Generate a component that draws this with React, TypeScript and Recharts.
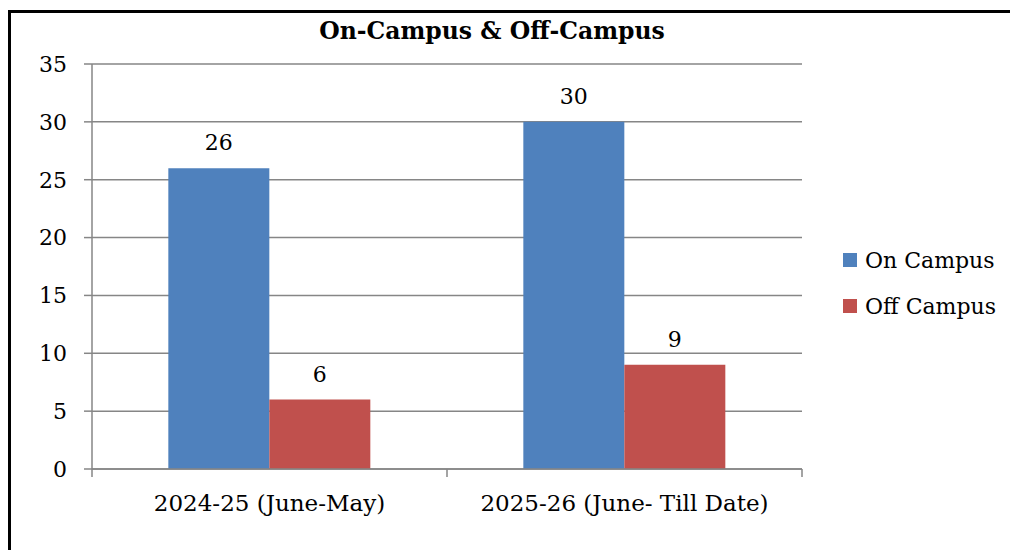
import React from 'react';
import { BarChart, Bar, XAxis, YAxis, CartesianGrid, LabelList, Text } from 'recharts';

const categories = ['2024-25 (June-May)', '2025-26 (June- Till Date)'];
const onCampus = [26, 30];
const offCampus = [6, 9];
const yTicks = [0, 5, 10, 15, 20, 25, 30, 35];
const seriesNames = ['On Campus', 'Off Campus'];
const seriesColors = ['#4F81BD', '#C0504D'];

const data = categories.map((c, i) => ({ name: c, on: onCampus[i], off: offCampus[i] }));

const FONT = '"DejaVu Serif", serif';
const GRAY = '#868686';
const X_TICK_SIZE = 8;
const X_TICK_MARGIN = 18;

const CategoryTick = (props: any) => {
  const { x, y, payload, index, visibleTicksCount } = props;
  const half = typeof payload?.offset === 'number' ? payload.offset : 0;
  const axisY = y - X_TICK_MARGIN - X_TICK_SIZE;
  const isLast = index === (visibleTicksCount ?? categories.length) - 1;
  return (
    <g>
      {half > 0 && (
        <line x1={x - half} x2={x - half} y1={axisY} y2={axisY + X_TICK_SIZE} stroke={GRAY} strokeWidth={1.5} />
      )}
      {half > 0 && isLast && (
        <line x1={x + half} x2={x + half} y1={axisY} y2={axisY + X_TICK_SIZE} stroke={GRAY} strokeWidth={1.5} />
      )}
      <Text x={x} y={y} textAnchor="middle" verticalAnchor="start" fill="#000" fontSize={23} fontFamily={FONT}>
        {payload.value}
      </Text>
    </g>
  );
};

export default function App() {
  return (
    <div style={{ position: 'absolute', left: 0, top: 0, width: 1010, height: 550, background: '#fff' }}>
      <div style={{ position: 'absolute', left: 8, top: 10, width: 999, height: 537, borderLeft: '3px solid #000', borderTop: '3px solid #000' }} />
      <div style={{ position: 'absolute', left: 92, width: 800, top: 17, textAlign: 'center', fontFamily: FONT, fontWeight: 'bold', fontSize: 23.5, color: '#000' }}>
        On-Campus &amp; Off-Campus
      </div>
      <div style={{ position: 'absolute', left: 0, top: 0 }}>
        <BarChart width={1010} height={550} data={data} margin={{ top: 64, right: 208, bottom: 51, left: 32 }} barCategoryGap="21.5%" barGap={0}>
          <CartesianGrid horizontal vertical={false} stroke={GRAY} strokeWidth={1.5} />
          <XAxis dataKey="name" height={30} tickLine={false} tickSize={X_TICK_SIZE} tickMargin={X_TICK_MARGIN} axisLine={{ stroke: GRAY, strokeWidth: 1.5 }} tick={<CategoryTick />} interval={0} />
          <YAxis width={60} domain={[0, 35]} ticks={yTicks} interval={0} tickSize={8} tickMargin={17} axisLine={{ stroke: GRAY, strokeWidth: 1.5 }} tickLine={{ stroke: GRAY, strokeWidth: 1.5 }} tick={{ fill: '#000', fontSize: 22, fontFamily: FONT }} />
          <Bar dataKey="on" name={seriesNames[0]} fill={seriesColors[0]} isAnimationActive={false}>
            <LabelList dataKey="on" position="top" offset={18} style={{ fill: '#000', fontSize: 22, fontFamily: FONT }} />
          </Bar>
          <Bar dataKey="off" name={seriesNames[1]} fill={seriesColors[1]} isAnimationActive={false}>
            <LabelList dataKey="off" position="top" offset={18} style={{ fill: '#000', fontSize: 22, fontFamily: FONT }} />
          </Bar>
        </BarChart>
      </div>
      <div style={{ position: 'absolute', left: 843, top: 237, fontFamily: FONT, fontSize: 22 }}>
        {seriesNames.map((n, i) => (
          <div key={n} style={{ display: 'flex', alignItems: 'center', height: 46 }}>
            <div style={{ width: 14, height: 14, background: seriesColors[i], marginRight: 8 }} />
            <span style={{ color: '#000' }}>{n}</span>
          </div>
        ))}
      </div>
    </div>
  );
}
